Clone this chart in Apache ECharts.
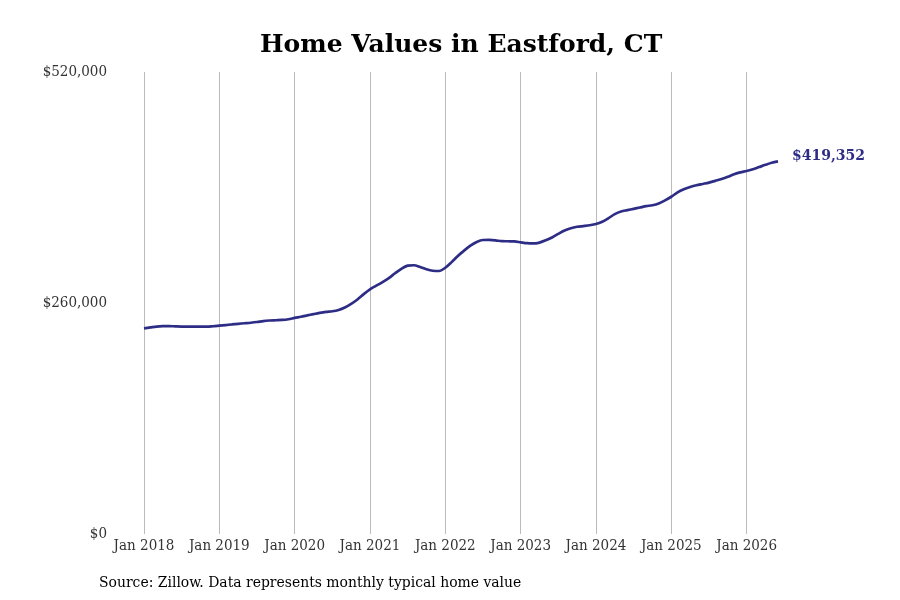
<!DOCTYPE html>
<html style="height: 100%">
<head>
<meta charset="utf-8">
<script src="https://cdn.jsdelivr.net/npm/echarts@6/dist/echarts.min.js"></script>
</head>
<body style="height: 100%; margin: 0; background: #fff">
<div id="container" style="width: 900px; height: 600px"></div>
<script>
// monthly typical home value, Jan 2018 .. Jun 2026
var startYear = 2018;
var values = [
  231500, 232500, 233500, 234000, 234000, 233700, 233500, 233500, 233500, 233300, 233300, 233800,
  234500, 235200, 235900, 236600, 237200, 237800, 238600, 239700, 240300, 240600, 240900, 241700,
  243200, 244500, 246000, 247500, 248900, 250000, 250700, 252200, 255000, 259000, 264000, 270000,
  275400, 279500, 283500, 288000, 293500, 298500, 302000, 302500, 300500, 298000, 296300, 296000,
  299700, 306000, 313000, 319000, 324500, 328700, 330900, 331000, 330500, 329600, 329500, 329300,
  328300, 327300, 327000, 328000, 330500, 333800, 337800, 341500, 344200, 345800, 346600, 347500,
  348900, 351500, 355500, 360000, 363000, 364500, 366000, 367500, 369000, 370000, 372000, 375500,
  379600, 384500, 388000, 390500, 392500, 394000, 395500, 397500, 399500, 402000, 405000, 407000,
  408600, 410500, 413000, 415500, 417800, 419352
];
var yTicks = [0, 260000, 520000];
var lastLabel = '$419,352';

var months = [];
for (var i = 0; i < values.length; i++) {
  var y = startYear + Math.floor(i / 12);
  var m = i % 12 + 1;
  months.push(y + '-' + (m < 10 ? '0' + m : m));
}

var font = 'DejaVu Serif Condensed';
var dom = document.getElementById('container');
var myChart = echarts.init(dom);

var option = {
  backgroundColor: '#fff',
  animation: false,
  title: {
    text: 'Home Values in Eastford, CT',
    left: 255,
    top: 28,
    textStyle: { fontFamily: 'DejaVu Serif', fontWeight: 'bold', fontSize: 25, color: '#000' }
  },
  graphic: [{
    type: 'text',
    left: 99,
    top: 575,
    style: { text: 'Source: Zillow. Data represents monthly typical home value', font: '15.5px "' + font + '"', fill: '#000' }
  }],
  grid: { left: 144, right: 122, top: 72, bottom: 66 },
  xAxis: {
    type: 'category',
    data: months,
    boundaryGap: false,
    axisLine: { show: false },
    axisTick: { show: false },
    axisLabel: {
      interval: function (idx) { return idx % 12 === 0; },
      formatter: function (v) { return 'Jan ' + v.slice(0, 4); },
      fontFamily: font, fontSize: 15, color: '#333', margin: 5
    },
    splitLine: {
      show: true,
      interval: function (idx) { return idx % 12 === 0; },
      lineStyle: { color: '#bbb', width: 1 }
    }
  },
  yAxis: {
    type: 'value',
    min: yTicks[0],
    max: yTicks[yTicks.length - 1],
    interval: yTicks[1] - yTicks[0],
    axisLine: { show: false },
    axisTick: { show: false },
    splitLine: { show: false },
    axisLabel: {
      margin: 37,
      fontFamily: font, fontSize: 15, color: '#333',
      formatter: function (v) { return '$' + v.toLocaleString('en-US'); }
    }
  },
  series: [{
    type: 'line',
    data: values,
    smooth: 0.3,
    showSymbol: false,
    lineStyle: { color: '#2e2d86', width: 2.7 },
    itemStyle: { color: '#2e2d86' },
    endLabel: {
      show: true,
      formatter: lastLabel,
      distance: 14,
      offset: [0, -5],
      fontFamily: 'DejaVu Serif',
      fontWeight: 'bold',
      fontSize: 14,
      color: '#2e2d86'
    }
  }]
};
myChart.setOption(option);
</script>
</body>
</html>
